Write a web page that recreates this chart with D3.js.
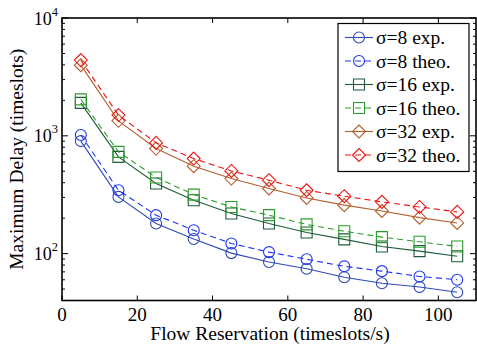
<!DOCTYPE html>
<html>
<head>
<meta charset="utf-8">
<script src="https://cdn.jsdelivr.net/npm/d3@7"></script>
<style>
    body { margin: 0; background: #fff; }
    svg { display: block; font-family: 'Liberation Serif', 'Times New Roman', serif; }
</style>
</head>
<body>
<svg width="477" height="347"></svg>
<script>
// flow reservation (timeslots/s)
const reservation = [5, 15, 25, 35, 45, 55, 65, 75, 85, 95, 105];

// maximum delay (timeslots)
const sigma8Exp = [902, 303, 180, 133, 101, 85, 74.5, 63, 56, 52, 47];
const sigma8Theo = [1016, 345, 212, 158, 122, 103, 89.5, 78, 71, 64, 60];
const sigma16Exp = [1905, 662, 394, 284, 219, 180, 151, 132, 115, 105, 95];
const sigma16Theo = [2040, 731, 443, 317, 249, 212, 177, 155, 138, 126, 115];
const sigma32Exp = [3980, 1340, 780, 552, 434, 357, 297, 258, 230, 202, 182];
const sigma32Theo = [4390, 1500, 871, 641, 503, 420, 345, 307, 275, 249, 226];

const xTicks = [0, 20, 40, 60, 80, 100];
const yTicks = [100, 1000, 10000];

const series = [
    { name: 'σ=8 exp.', values: sigma8Exp, color: '#2f49b4', marker: 'circle', dash: null },
    { name: 'σ=8 theo.', values: sigma8Theo, color: '#1c34f2', marker: 'circle', dash: '6,4' },
    { name: 'σ=16 exp.', values: sigma16Exp, color: '#1f5a38', marker: 'square', dash: null },
    { name: 'σ=16 theo.', values: sigma16Theo, color: '#2a9d2a', marker: 'square', dash: '6,4' },
    { name: 'σ=32 exp.', values: sigma32Exp, color: '#b3602e', marker: 'diamond', dash: null },
    { name: 'σ=32 theo.', values: sigma32Theo, color: '#f01414', marker: 'diamond', dash: '6,4' }
];

const pLeft = 62, pRight = 476, pTop = 18, pBottom = 300.5;

const svg = d3.select('svg');

const xScale = d3.scaleLinear().domain([0, 110]).range([pLeft, pRight]);
const yScale = d3.scaleLog().domain([40, 10000]).range([pBottom, pTop]);

// marker shapes
const markerPath = (type) => {
    if (type === 'circle') return d3.symbol().type(d3.symbolCircle).size(Math.PI * 5.5 * 5.5)();
    if (type === 'square') return d3.symbol().type(d3.symbolSquare).size(11 * 11)();
    const s = 6.5;
    return `M0,${-s}L${s},0L0,${s}L${-s},0Z`;
};

// ticks (inside, on all four sides)
const tickG = svg.append('g').attr('stroke', '#000').attr('stroke-width', 1);
xTicks.forEach((t) => {
    const x = xScale(t);
    tickG.append('line').attr('x1', x).attr('x2', x).attr('y1', pBottom).attr('y2', pBottom - 5);
    tickG.append('line').attr('x1', x).attr('x2', x).attr('y1', pTop).attr('y2', pTop + 5);
});
const minor = [];
for (let e = 1; e <= 3; e++) {
    for (let m = 2; m <= 9; m++) {
        const v = m * Math.pow(10, e);
        if (v >= 40 && v < 10000) minor.push(v);
    }
}
minor.forEach((v) => {
    const y = yScale(v);
    tickG.append('line').attr('x1', pLeft).attr('x2', pLeft + 3).attr('y1', y).attr('y2', y);
    tickG.append('line').attr('x1', pRight).attr('x2', pRight - 3).attr('y1', y).attr('y2', y);
});
yTicks.forEach((v) => {
    const y = yScale(v);
    tickG.append('line').attr('x1', pLeft).attr('x2', pLeft + 6).attr('y1', y).attr('y2', y);
    tickG.append('line').attr('x1', pRight).attr('x2', pRight - 6).attr('y1', y).attr('y2', y);
});

// lines + markers
const lineGen = d3.line()
    .x((d, i) => xScale(reservation[i]))
    .y((d) => yScale(d));

series.forEach((s) => {
    const g = svg.append('g');
    g.append('path')
        .attr('d', lineGen(s.values))
        .attr('fill', 'none')
        .attr('stroke', s.color)
        .attr('stroke-width', 1.1)
        .attr('stroke-dasharray', s.dash);
    g.selectAll('path.mk')
        .data(s.values)
        .join('path')
        .attr('class', 'mk')
        .attr('d', markerPath(s.marker))
        .attr('transform', (d, i) => `translate(${xScale(reservation[i])},${yScale(d)})`)
        .attr('fill', 'none')
        .attr('stroke', s.color)
        .attr('stroke-width', 1.1);
});

// axes box
svg.append('rect')
    .attr('x', pLeft).attr('y', pTop)
    .attr('width', pRight - pLeft).attr('height', pBottom - pTop)
    .attr('fill', 'none').attr('stroke', '#000').attr('stroke-width', 1.6);

// tick labels
svg.append('g').selectAll('text')
    .data(xTicks)
    .join('text')
    .attr('x', (d) => xScale(d))
    .attr('y', 321)
    .attr('text-anchor', 'middle')
    .attr('font-size', 19)
    .text((d) => d);

const yl = svg.append('g').selectAll('text')
    .data(yTicks)
    .join('text')
    .attr('x', 58)
    .attr('y', (d) => yScale(d) + 6.5)
    .attr('text-anchor', 'end')
    .attr('font-size', 18);
yl.append('tspan').text('10');
yl.append('tspan')
    .attr('dy', -9)
    .attr('font-size', 12.5)
    .text((d) => Math.round(Math.log10(d)));

// axis titles
svg.append('text')
    .attr('x', 270)
    .attr('y', 340)
    .attr('text-anchor', 'middle')
    .attr('font-size', 19.5)
    .text('Flow Reservation (timeslots/s)');

svg.append('text')
    .attr('transform', `translate(23,${(pTop + pBottom) / 2}) rotate(-90)`)
    .attr('text-anchor', 'middle')
    .attr('font-size', 19.5)
    .text('Maximum Delay (timeslots)');

// legend
const lgX = 338, lgY = 23.5, rowH = 23.5;
const legend = svg.append('g');
legend.append('rect')
    .attr('x', lgX).attr('y', lgY)
    .attr('width', 131).attr('height', 148)
    .attr('fill', '#fff').attr('stroke', '#000').attr('stroke-width', 1.2);
series.forEach((s, i) => {
    const cy = lgY + 14 + i * rowH;
    const row = legend.append('g');
    row.append('line')
        .attr('x1', lgX + 7).attr('x2', lgX + 35)
        .attr('y1', cy).attr('y2', cy)
        .attr('stroke', s.color).attr('stroke-width', 1.1)
        .attr('stroke-dasharray', s.dash);
    row.append('path')
        .attr('d', markerPath(s.marker))
        .attr('transform', `translate(${lgX + 21},${cy})`)
        .attr('fill', 'none').attr('stroke', s.color).attr('stroke-width', 1.1);
    row.append('text')
        .attr('x', lgX + 38)
        .attr('y', cy + 6.5)
        .attr('font-size', 19.5)
        .text(s.name);
});
</script>
</body>
</html>
